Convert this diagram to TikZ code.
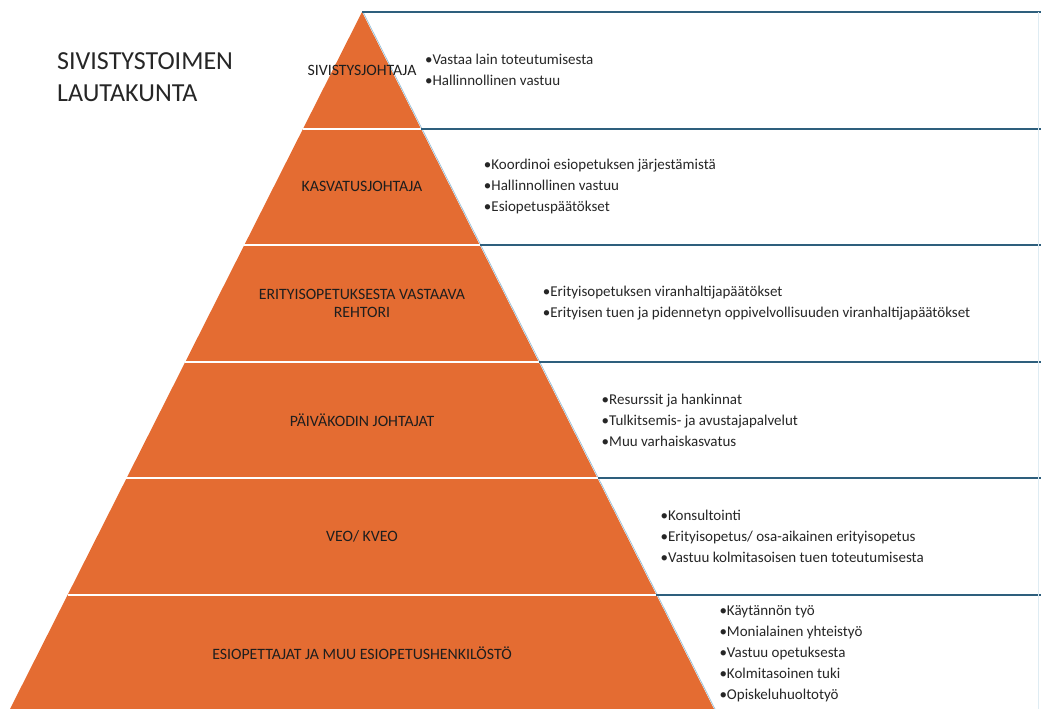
\documentclass[tikz,border=0pt]{standalone}
\usepackage{fontspec}
\setmainfont{Carlito}
\usepackage{tikz}

\definecolor{pyramid}{RGB}{228,108,50}
\definecolor{rule}{RGB}{46,95,125}
\definecolor{edge}{RGB}{150,190,215}
\definecolor{ink}{RGB}{38,38,38}

\begin{document}
\begin{tikzpicture}[x=1pt, y=-1pt,
  level/.style={font=\fontsize{15.8}{18}\selectfont, text=ink!80!black, align=center, inner sep=0pt},
  duty/.style={font=\fontsize{15}{21}\selectfont, text=ink, align=left, anchor=west, inner sep=0pt},
  board/.style={font=\fontsize{26}{32}\selectfont, text=ink, align=left, anchor=west, inner sep=0pt},
  box rule/.style={draw=rule, line width=2pt}]
\useasboundingbox (0,0) rectangle (1041,709);
\clip (0,0) rectangle (1041,709);

% pyramid
\fill [pyramid] (362,12) -- (714,709) -- (10,709) -- cycle;

\foreach \i in {0,...,5} {
  \pgfmathsetmacro\t{12+116.6*\i}
  \pgfmathsetmacro\xt{362+0.505*(\t-12)}
  \pgfmathsetmacro\xb{362+0.505*(\t+116.6-12)}
  \draw [edge, line width=0.7pt] (\xt+1,\t) -- (\xb+1,\t+116.6);
  \draw [white, line width=2pt] ({362-0.505*(\t-12)},\t) -- (\xt,\t);
  \draw [box rule] (\xt,\t) -- (1041,\t);
}
\draw [edge!30, line width=0.6pt] (1038,12) -- (1038,709);

\foreach \m [count=\y] in {SIVISTYSJOHTAJA, KASVATUSJOHTAJA,
    {ERITYISOPETUKSESTA VASTAAVA\\REHTORI}, PÄIVÄKODIN JOHTAJAT,
    {VEO/ KVEO}, ESIOPETTAJAT JA MUU ESIOPETUSHENKILÖSTÖ}
  \node [level] (level-\y) at (362,12+116.6*\y-58.3) {\m};

\foreach \l [count=\y] in {
    {•Vastaa lain toteutumisesta\\•Hallinnollinen vastuu},
    {•Koordinoi esiopetuksen järjestämistä\\•Hallinnollinen vastuu\\•Esiopetuspäätökset},
    {•Erityisopetuksen viranhaltijapäätökset\\•Erityisen tuen ja pidennetyn oppivelvollisuuden viranhaltijapäätökset},
    {•Resurssit ja hankinnat\\•Tulkitsemis- ja avustajapalvelut\\•Muu varhaiskasvatus},
    {•Konsultointi\\•Erityisopetus/ osa-aikainen erityisopetus\\•Vastuu kolmitasoisen tuen toteutumisesta},
    {•Käytännön työ\\•Monialainen yhteistyö\\•Vastuu opetuksesta\\•Kolmitasoinen tuki\\•Opiskeluhuoltotyö}}
  \node [duty] (duty-\y) at ({362+0.505*116.6*\y+4},12+116.6*\y-58.3) {\l};

\node [board] (board) at (57,77) {SIVISTYSTOIMEN\\LAUTAKUNTA};
\end{tikzpicture}
\end{document}
